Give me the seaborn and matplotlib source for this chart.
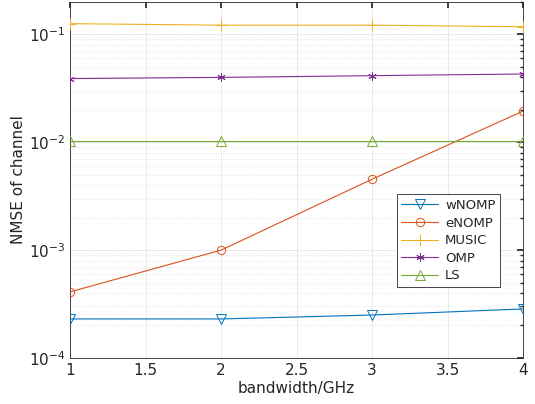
import matplotlib.pyplot as plt
import pandas as pd
import seaborn as sns

bandwidth = [1, 2, 3, 4]
wnomp = [2.3e-4, 2.3e-4, 2.5e-4, 2.85e-4]
enomp = [4.1e-4, 1.0e-3, 4.55e-3, 1.95e-2]
music = [0.126, 0.122, 0.122, 0.118]
omp = [0.039, 0.040, 0.0415, 0.043]
ls = [0.0102, 0.0102, 0.0102, 0.0102]

series = {"wNOMP": wnomp, "eNOMP": enomp, "MUSIC": music, "OMP": omp, "LS": ls}
colors = ["#0072BD", "#D95319", "#EDB120", "#7E2F8E", "#77AC30"]
# MATLAB-ish markers: down triangle, circle, plus, asterisk, up triangle
markers = ["v", "o", "+", (6, 2, 0), "^"]
sizes = [7, 6, 8, 6, 7]

sns.set_theme(style="white")
plt.rcParams["font.family"] = ["DejaVu Sans"]

fig = plt.figure(figsize=(5.35, 4.04), dpi=100)
ax = fig.add_axes([0.131, 0.114, 0.847, 0.881])

for (name, vals), c, m, ms in zip(series.items(), colors, markers, sizes):
    d = pd.DataFrame({"bandwidth": bandwidth, "nmse": vals})
    sns.lineplot(data=d, x="bandwidth", y="nmse", color=c, marker=m,
                 markersize=ms, markerfacecolor="none", markeredgecolor=c,
                 markeredgewidth=0.7, linewidth=0.8, label=name, ax=ax,
                 zorder=3)

ax.set_yscale("log")
ax.set_xlim(1, 4)
ax.set_ylim(1e-4, 0.2)
ax.set_xticks([1, 1.5, 2, 2.5, 3, 3.5, 4])
ax.set_xticklabels(["1", "1.5", "2", "2.5", "3", "3.5", "4"])
ax.grid(True, which="major", color="#e6e6e6", linewidth=0.6, zorder=0)
ax.grid(True, which="minor", axis="y", color="#e3e3e3", linestyle=":", linewidth=0.6)
ax.grid(False, which="minor", axis="x")
ax.set_axisbelow(True)
ax.tick_params(which="both", direction="in", top=True, right=True,
               labelsize=11, colors="#262626", length=4)
ax.tick_params(which="minor", length=2)
for s in ax.spines.values():
    s.set_color("#262626")
    s.set_linewidth(0.6)
ax.set_xlabel("bandwidth/GHz", fontsize=11, color="#262626", labelpad=2)
ax.set_ylabel("NMSE of channel", fontsize=11, color="#262626", labelpad=2)

leg = ax.legend(loc="lower right", bbox_to_anchor=(0.949, 0.199), fontsize=9.5,
                frameon=True, fancybox=False, handlelength=2.8, borderpad=0.35,
                labelspacing=0.35, handletextpad=0.5, framealpha=1,
                borderaxespad=0)
leg.get_frame().set_edgecolor("#262626")
leg.get_frame().set_linewidth(0.6)

fig.savefig("out.png", dpi=100)
